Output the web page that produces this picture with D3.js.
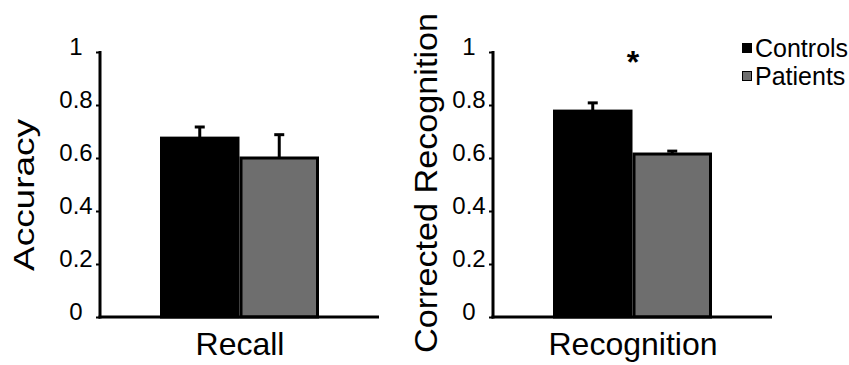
<!DOCTYPE html>
<html>
<head>
<meta charset="utf-8">
<script src="https://cdn.jsdelivr.net/npm/d3@7"></script>
<style>
  body { margin: 0; background: #fff; }
  text { font-family: "Liberation Sans", Arial, sans-serif; fill: #000; }
</style>
</head>
<body>
<svg id="chart" width="849" height="365"></svg>
<script>
// data
var groups = ['Controls', 'Patients'];
var panelNames = ['Recall', 'Recognition'];
var yTitles = ['Accuracy', 'Corrected Recognition'];
var recallMeans = [0.675, 0.600];
var recallErr = [0.042, 0.088];
var recogMeans = [0.777, 0.615];
var recogErr = [0.031, 0.011];
var yTicks = [0, 0.2, 0.4, 0.6, 0.8, 1];
var fills = ['#000000', '#6e6e6e'];

var svg = d3.select('#chart');

var y = d3.scaleLinear().domain([0, 1]).range([317, 52]);

// one panel per measure
var panels = [
  {name: panelNames[0], title: yTitles[0], means: recallMeans, err: recallErr, x0: 100,
   titleX: 34, titleY: 195, titleSize: 30, titleLen: 152},
  {name: panelNames[1], title: yTitles[1], means: recogMeans, err: recogErr, x0: 493,
   titleX: 437, titleY: 183, titleSize: 31, titleLen: 340}
];

panels.forEach(function(p, pi){
  var g = svg.append('g').attr('transform', 'translate(' + p.x0 + ',0)');
  var w = 279;

  var x = d3.scaleBand().domain(groups).range([60, 219]).paddingInner(0);

  // bars
  g.selectAll('rect.bar').data(p.means).enter().append('rect')
    .attr('class', 'bar')
    .attr('x', function(d, i){ return x(groups[i]) + 1.5; })
    .attr('width', x.bandwidth() - 3)
    .attr('y', function(d){ return y(d); })
    .attr('height', function(d){ return y(0) - y(d); })
    .attr('fill', function(d, i){ return fills[i]; })
    .attr('stroke', '#000').attr('stroke-width', 3);

  // error bars (upper only)
  p.means.forEach(function(m, i){
    var cx = x(groups[i]) + x.bandwidth() / 2;
    g.append('line')
      .attr('x1', cx).attr('x2', cx)
      .attr('y1', y(m)).attr('y2', y(m + p.err[i]))
      .attr('stroke', '#000').attr('stroke-width', 3);
    g.append('line')
      .attr('x1', cx - 5).attr('x2', cx + 5)
      .attr('y1', y(m + p.err[i])).attr('y2', y(m + p.err[i]))
      .attr('stroke', '#000').attr('stroke-width', 3);
  });

  // y axis
  var ax = g.append('g').call(d3.axisLeft(y).tickValues(yTicks).tickSize(4).tickFormat(d3.format('')));
  ax.select('.domain').remove();
  ax.selectAll('.tick line').attr('stroke', '#000').attr('stroke-width', 2);
  ax.selectAll('.tick text')
    .attr('x', -24).attr('dy', 2)
    .attr('text-anchor', 'middle')
    .style('font-size', '24px')
    .style('font-family', '"Liberation Sans", Arial, sans-serif')
    .attr('fill', '#000');

  g.append('line').attr('x1', 0).attr('x2', 0).attr('y1', y(1) - 1).attr('y2', y(0) + 1.5)
    .attr('stroke', '#000').attr('stroke-width', 3);
  g.append('line').attr('x1', -1.5).attr('x2', w).attr('y1', y(0)).attr('y2', y(0))
    .attr('stroke', '#000').attr('stroke-width', 3);

  // category label
  g.append('text')
    .attr('x', 140).attr('y', 355)
    .attr('text-anchor', 'middle')
    .style('font-size', '32px')
    .text(p.name);

  // y title
  svg.append('text')
    .attr('transform', 'translate(' + p.titleX + ',' + p.titleY + ') rotate(-90)')
    .attr('text-anchor', 'middle')
    .attr('textLength', p.titleLen).attr('lengthAdjust', 'spacingAndGlyphs')
    .style('font-size', p.titleSize + 'px')
    .text(p.title);
});

// significance marker
svg.append('text')
  .attr('x', 633).attr('y', 73)
  .attr('text-anchor', 'middle')
  .style('font-size', '32px').style('font-weight', 'bold')
  .text('*');

// legend
var leg = svg.append('g').attr('transform', 'translate(742,0)');
groups.forEach(function(gname, i){
  var row = leg.append('g').attr('transform', 'translate(0,' + (57 + i * 28) + ')');
  row.append('rect')
    .attr('x', 0.5).attr('y', -13.5).attr('width', 9).attr('height', 9)
    .attr('fill', fills[i]).attr('stroke', '#000').attr('stroke-width', 1);
  row.append('text')
    .attr('x', 13).attr('y', 0)
    .style('font-size', '25px')
    .text(gname);
});
</script>
</body>
</html>
